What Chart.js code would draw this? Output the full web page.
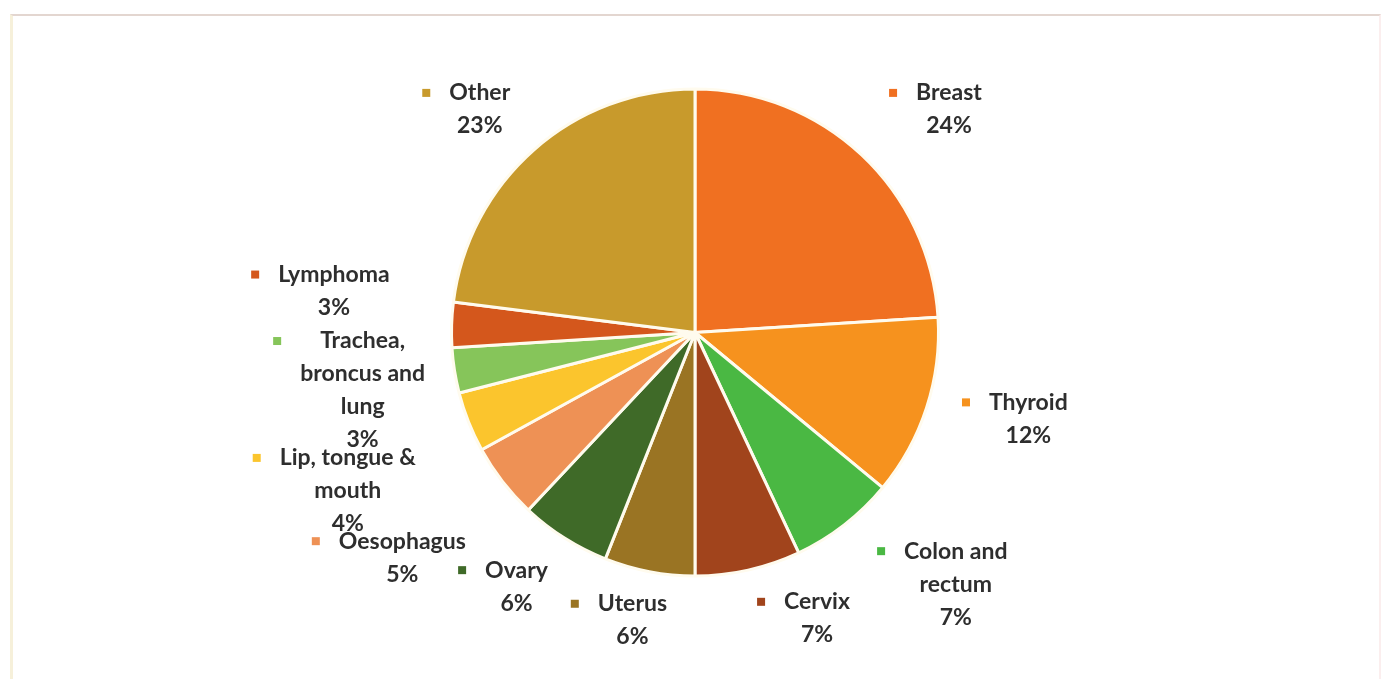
<!DOCTYPE html>
<html lang="en">

<head>
    <meta charset="UTF-8">
    <script src="https://cdn.jsdelivr.net/npm/chart.js"></script>
    <title>Cancer cases by site</title>
    <style>
        html, body { margin: 0; padding: 0; background: #fff; }
        .frame {
            position: absolute; left: 10px; top: 14px; width: 1366px; height: 700px;
            border-top: 2px solid #e3d6d0; border-left: 3px solid #f6f0da; border-right: 2px solid #fbeeee;
        }
        #wrap { position: absolute; left: 0; top: 0; width: 1381px; height: 679px; }
    </style>
</head>

<body>
    <div class="frame"></div>
    <div id="wrap"><canvas id="pie"></canvas></div>

    <script>
        const categories = ['Breast', 'Thyroid', 'Colon and rectum', 'Cervix', 'Uterus', 'Ovary',
            'Oesophagus', 'Lip, tongue & mouth', 'Trachea, broncus and lung', 'Lymphoma', 'Other'];
        const shares = [24, 12, 7, 7, 6, 6, 5, 4, 3, 3, 23];
        const colours = ['#f07021', '#f6921e', '#4ab843', '#a1441c', '#9a7423', '#3f6a28',
            '#ee9155', '#fbc52d', '#86c55a', '#d4571c', '#c89a2c'];

        // where each label sits, in units of the pie radius from its centre
        const labelSpots = [
            [1.043, -0.984], [1.369, 0.287], [1.071, 0.898], [0.501, 1.106], [-0.257, 1.114], [-0.733, 0.976],
            [-1.202, 0.857], [-1.426, 0.515], [-1.365, 0.035], [-1.483, -0.238], [-0.884, -0.984]
        ];

        const FONT = 'bold 23px Lato, "Liberation Sans", sans-serif';
        const LINE_H = 33;

        function wrap(ctx, text, maxW) {
            const words = text.split(' ');
            const lines = [];
            let cur = '';
            words.forEach(w => {
                const test = cur ? cur + ' ' + w : w;
                if (cur && ctx.measureText(test).width > maxW) {
                    lines.push(cur);
                    cur = w;
                } else {
                    cur = test;
                }
            });
            if (cur) lines.push(cur);
            return lines;
        }

        const sliceLabels = {
            id: 'sliceLabels',
            afterDraw(chart) {
                const ctx = chart.ctx;
                const meta = chart.getDatasetMeta(0);
                const data = chart.data.datasets[0].data;
                const total = data.reduce((a, b) => a + b, 0);
                ctx.save();
                ctx.font = FONT;
                ctx.textAlign = 'center';
                ctx.textBaseline = 'middle';
                meta.data.forEach((arc, i) => {
                    const r = arc.outerRadius;
                    const cx = arc.x + labelSpots[i][0] * r;
                    const cy = arc.y + labelSpots[i][1] * r;
                    const lines = wrap(ctx, chart.data.labels[i], 160);
                    lines.push(Math.round(data[i] / total * 100) + '%');
                    const widest = Math.max(...lines.slice(0, -1).map(l => ctx.measureText(l).width));

                    ctx.fillStyle = chart.data.datasets[0].backgroundColor[i];
                    ctx.fillRect(cx - widest / 2 - 27, cy - 4, 8, 8);

                    ctx.fillStyle = '#2e2e2e';
                    lines.forEach((l, k) => ctx.fillText(l, cx, cy + k * LINE_H));
                });
                ctx.restore();
            }
        };

        new Chart(document.getElementById('pie'), {
            type: 'pie',
            data: {
                labels: categories,
                datasets: [{
                    data: shares,
                    backgroundColor: colours,
                    borderColor: '#fffbee',
                    borderWidth: 3
                }]
            },
            options: {
                responsive: true,
                maintainAspectRatio: false,
                animation: false,
                layout: { padding: { top: 86, bottom: 100, left: 450, right: 441 } },
                plugins: {
                    legend: { display: false },
                    tooltip: { enabled: false }
                }
            },
            plugins: [sliceLabels]
        });
    </script>
</body>

</html>
